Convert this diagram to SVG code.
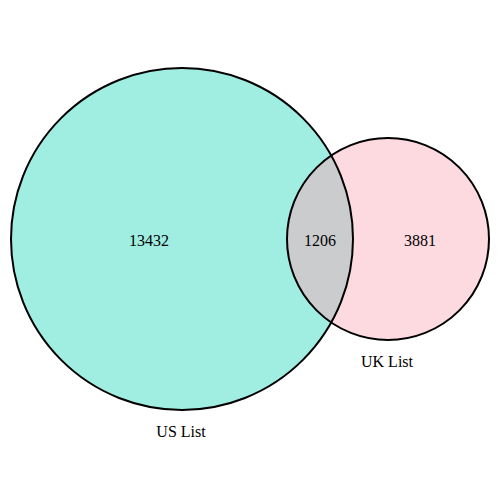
<svg xmlns="http://www.w3.org/2000/svg" width="500" height="500" viewBox="0 0 500 500">
<style>
.lbl{font-family:"Liberation Serif","Times New Roman",serif;font-size:16px;fill:#000;text-anchor:middle}
.edge{fill:none;stroke:#000;stroke-width:2}
</style>
<defs>
<clipPath id="clipUS"><circle cx="182" cy="239" r="171"/></clipPath>
</defs>
<rect width="500" height="500" fill="#fff"/>
<g id="us">
<circle cx="182" cy="239" r="171" fill="#a0eee2"/>
</g>
<g id="uk">
<circle cx="388" cy="239" r="101" fill="#fdd9e0"/>
</g>
<g id="overlap">
<circle cx="388" cy="239" r="101" fill="#cbcccd" clip-path="url(#clipUS)"/>
</g>
<g id="outlines">
<circle class="edge" cx="182" cy="239" r="171"/>
<circle class="edge" cx="388" cy="239" r="101"/>
</g>
<g id="labels">
<text class="lbl" x="149" y="246">13432</text>
<text class="lbl" x="320" y="246">1206</text>
<text class="lbl" x="420" y="246">3881</text>
<text class="lbl" x="181" y="437">US List</text>
<text class="lbl" x="387" y="367">UK List</text>
</g>
</svg>
